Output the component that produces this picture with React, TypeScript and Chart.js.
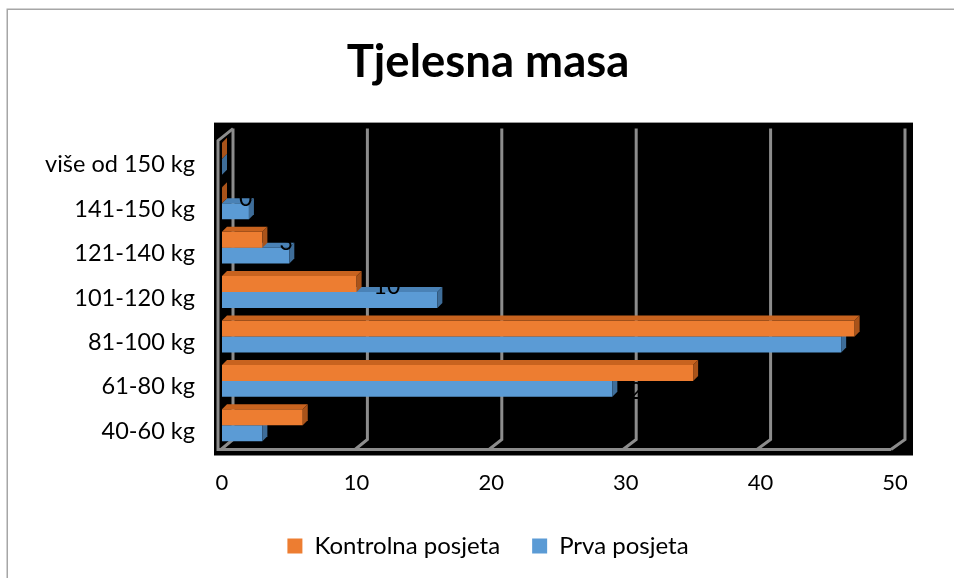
import React, { useEffect, useRef } from 'react';
import { Chart, registerables } from 'chart.js';

Chart.register(...registerables);

// ---- data ----
const titleText = 'Tjelesna masa';
const categories = ['40-60 kg', '61-80 kg', '81-100 kg', '101-120 kg', '121-140 kg', '141-150 kg', 'više od 150 kg'];
const seriesNames = ['Kontrolna posjeta', 'Prva posjeta'];
const kontrolnaPosjeta = [6, 35, 47, 10, 3, 0, 0];
const prvaPosjeta = [3, 29, 46, 16, 5, 2, 0];
const xTicks = [0, 10, 20, 30, 40, 50];

// ---- styles ----
const FONT = 'Lato, "Open Sans", sans-serif';
const orange = { front: '#ED7D31', top: '#C8631F', side: '#A9531A' };
const blue = { front: '#5B9BD5', top: '#4A82B6', side: '#3E6D99' };
const DEPTH = 5;

const frame3d = {
  id: 'frame3d',
  beforeDraw(chart: any) {
    const { ctx, chartArea: a } = chart;
    const xs = chart.scales.x;
    ctx.save();
    // outer chart border (top & left visible)
    ctx.strokeStyle = '#a6a6a6';
    ctx.lineWidth = 1.5;
    ctx.beginPath();
    ctx.moveTo(7.25, chart.height + 2);
    ctx.lineTo(7.25, 9.25);
    ctx.lineTo(chart.width + 2, 9.25);
    ctx.stroke();

    // black plot area
    ctx.fillStyle = '#000';
    ctx.fillRect(a.left - 8, a.top - 14, a.right - a.left + 26, a.bottom - a.top + 22);

    const front = (v: number) => a.left - 1 + (xs.getPixelForValue(v) - a.left) * 0.9955;
    const back = (v: number) => a.left + 11 + (xs.getPixelForValue(v) - a.left) * 0.9985;

    ctx.strokeStyle = '#8c8c8c';
    ctx.lineWidth = 3;
    ctx.lineJoin = 'miter';
    const backTop = a.top - 8;
    const backBottom = a.bottom - 8;
    const floorY = a.bottom + 2;
    for (const v of xTicks) {
      ctx.beginPath();
      ctx.moveTo(back(v), backTop);
      ctx.lineTo(back(v), backBottom);
      ctx.lineTo(front(v), floorY);
      ctx.stroke();
    }
    // floor front edge and left wall
    ctx.beginPath();
    ctx.moveTo(front(xTicks[xTicks.length - 1]), floorY);
    ctx.lineTo(a.left - 4, floorY);
    ctx.lineTo(a.left - 4, a.top + 4);
    ctx.lineTo(back(0), backTop);
    ctx.stroke();
    ctx.restore();
  },
  afterDatasetDraw(chart: any, args: any) {
    const { ctx } = chart;
    const ds = chart.data.datasets[args.index];
    const meta = args.meta;
    ctx.save();
    meta.data.forEach((el: any) => {
      const { x, y, base, height } = el.getProps(['x', 'y', 'base', 'height'], true);
      const t = y - height / 2;
      const b = y + height / 2;
      // top face
      ctx.fillStyle = ds.topColor;
      ctx.beginPath();
      ctx.moveTo(base, t);
      ctx.lineTo(base + DEPTH, t - DEPTH);
      ctx.lineTo(x + DEPTH, t - DEPTH);
      ctx.lineTo(x, t);
      ctx.closePath();
      ctx.fill();
      // side face
      ctx.fillStyle = ds.sideColor;
      ctx.beginPath();
      ctx.moveTo(x, t);
      ctx.lineTo(x + DEPTH, t - DEPTH);
      ctx.lineTo(x + DEPTH, b - DEPTH);
      ctx.lineTo(x, b);
      ctx.closePath();
      ctx.fill();
    });
    ctx.restore();
  },
  afterDatasetsDraw(chart: any) {
    // data labels in black (only visible where they cross coloured marks)
    const { ctx } = chart;
    ctx.save();
    ctx.fillStyle = '#000';
    ctx.font = `23px ${FONT}`;
    ctx.textAlign = 'left';
    ctx.textBaseline = 'middle';
    chart.data.datasets.forEach((ds: any, i: number) => {
      const meta = chart.getDatasetMeta(i);
      meta.data.forEach((el: any, j: number) => {
        const { x, y } = el.getProps(['x', 'y'], true);
        ctx.fillText(String(ds.data[j]), x + 17, y + 3);
      });
    });
    ctx.restore();
  },
};

export default function App() {
  const ref = useRef<HTMLCanvasElement | null>(null);

  useEffect(() => {
    document.body.style.margin = '0';
    const canvas = ref.current!;
    const chart = new Chart(canvas, {
      type: 'bar',
      data: {
        labels: categories,
        datasets: [
          {
            label: seriesNames[0],
            data: kontrolnaPosjeta,
            backgroundColor: orange.front,
            topColor: orange.top,
            sideColor: orange.side,
            categoryPercentage: 0.72,
            barPercentage: 1,
            borderWidth: 0,
          } as any,
          {
            label: seriesNames[1],
            data: prvaPosjeta,
            backgroundColor: blue.front,
            topColor: blue.top,
            sideColor: blue.side,
            categoryPercentage: 0.72,
            barPercentage: 1,
            borderWidth: 0,
          } as any,
        ],
      },
      options: {
        indexAxis: 'y',
        animation: false,
        responsive: false,
        devicePixelRatio: 1,
        layout: { padding: { left: 0, right: -22, top: 0, bottom: 10 } },
        scales: {
          x: {
            min: 0,
            max: 50,
            afterBuildTicks: (s: any) => {
              s.ticks = xTicks.map((v) => ({ value: v }));
            },
            ticks: { font: { family: FONT, size: 22 }, color: '#000', padding: 22, maxRotation: 0 },
            grid: { display: false, drawTicks: false },
            border: { display: false },
            afterFit: (s: any) => {
              s.height = 54.5;
            },
          },
          y: {
            reverse: true,
            ticks: { font: { family: FONT, size: 23.5 }, color: '#000', padding: 27, labelOffset: 6 },
            grid: { display: false, drawTicks: false },
            border: { display: false },
            afterFit: (s: any) => {
              s.width = 222;
            },
          },
          // empty right-hand spacer axis (keeps the plot narrower than the title/legend box)
          yRight: {
            type: 'linear',
            position: 'right',
            display: true,
            ticks: { display: false },
            grid: { display: false, drawTicks: false },
            border: { display: false },
            afterFit: (s: any) => {
              s.width = 81;
            },
          },
        },
        plugins: {
          title: {
            display: true,
            text: titleText,
            color: '#000',
            font: { family: FONT, size: 45.5, weight: 'bold' },
            padding: { top: 35, bottom: 47 },
          },
          legend: {
            position: 'bottom',
            labels: {
              font: { family: FONT, size: 24 },
              color: '#000',
              boxWidth: 15,
              boxHeight: 15,
              padding: 32,
            },
          },
          tooltip: { enabled: false },
        },
      } as any,
      plugins: [frame3d],
    });
    return () => chart.destroy();
  }, []);

  return <canvas ref={ref} width={954} height={578} style={{ display: 'block' }} />;
}
